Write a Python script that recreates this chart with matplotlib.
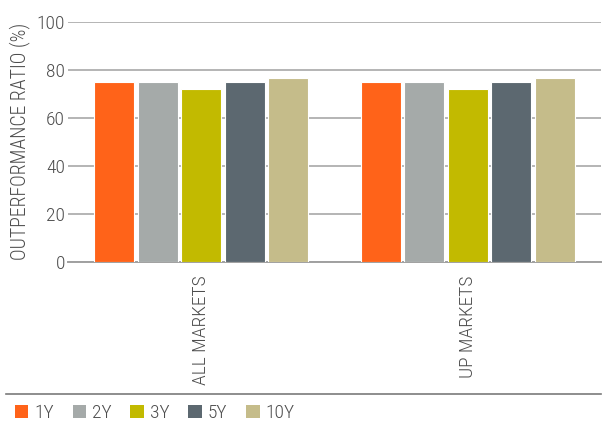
import numpy as np
import matplotlib
matplotlib.use("Agg")
from matplotlib import pyplot as plt
from matplotlib.lines import Line2D
from matplotlib.patches import Patch

markets = ["ALL MARKETS", "UP MARKETS"]
horizons = ["1Y", "2Y", "3Y", "5Y", "10Y"]
ratio_1y = [75.0, 75.0]
ratio_2y = [75.0, 75.0]
ratio_3y = [72.1, 72.1]
ratio_5y = [75.0, 75.0]
ratio_10y = [76.7, 76.7]
colors = ["#ff6319", "#a5aaa9", "#c2ba00", "#5c6870", "#c5bc8a"]

plt.rcParams["font.family"] = ["Roboto Condensed", "Roboto", "DejaVu Sans"]
plt.rcParams["font.weight"] = "light"
text_color = "#4d4d4d"
grid_color = "#a0a0a0"

fig = plt.figure(figsize=(6.08, 4.26), dpi=100)
ax = fig.add_axes([0.1118, 0.3857, 0.8767, 0.5633])

x = np.arange(len(markets))
width = 0.15
step = 0.163
series = [ratio_1y, ratio_2y, ratio_3y, ratio_5y, ratio_10y]
for i, (vals, col) in enumerate(zip(series, colors)):
    ax.bar(x + (i - 2) * step, vals, width, color=col,
           edgecolor="white", linewidth=0.8, zorder=3)

ax.set_xlim(-0.5, 1.5)
ax.set_ylim(0, 100)
ax.set_yticks([0, 20, 40, 60, 80, 100])
ax.yaxis.grid(True, color=grid_color, linewidth=1.1, zorder=0)
ax.set_axisbelow(True)

for side in ["top", "right", "left"]:
    ax.spines[side].set_visible(False)
ax.spines["bottom"].set_color(grid_color)
ax.spines["bottom"].set_linewidth(1.4)

ax.set_xticks(x)
ax.set_xticklabels(markets, rotation=90, fontsize=14, color=text_color)
ax.tick_params(axis="x", length=0, pad=10)
ax.tick_params(axis="y", length=0, pad=2, labelsize=14, labelcolor=text_color)

ax.set_ylabel("OUTPERFORMANCE RATIO (%)", fontsize=14.2, color=text_color,
              fontweight="light", labelpad=5)

# separator above the legend
fig.add_artist(Line2D([0.01, 0.988], [1 - 394 / 426, 1 - 394 / 426],
                      color="#7a7a7a", linewidth=1.2,
                      transform=fig.transFigure))

handles = [Patch(facecolor=c, edgecolor="none") for c in colors]
leg = fig.legend(handles, horizons, loc="center left", ncol=5,
                 bbox_to_anchor=(0.024, 1 - 413 / 426), frameon=False,
                 fontsize=14, handlelength=0.7, handleheight=0.65,
                 handletextpad=0.3, columnspacing=0.97, borderaxespad=0,
                 borderpad=0)
for t in leg.get_texts():
    t.set_color(text_color)

fig.savefig("out.png", dpi=100, facecolor="white")
